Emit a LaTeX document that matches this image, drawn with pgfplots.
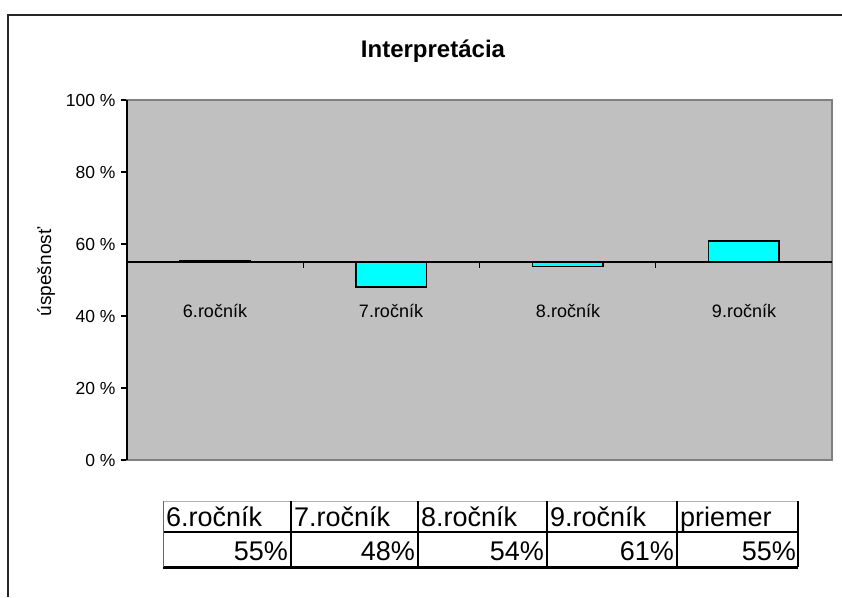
\documentclass[border=0pt]{standalone}
\usepackage{fontspec}
\setmainfont{Liberation Sans}
\usepackage{pgfplots}
\usepackage{pgfplotstable}
\pgfplotsset{compat=1.18}
\definecolor{plotgray}{RGB}{192,192,192}
\definecolor{bordergray}{RGB}{128,128,128}
\definecolor{barcyan}{RGB}{0,255,255}
\pgfplotstableread{
x v
0 55.4
1 48.1
2 53.8
3 60.9
}\datatable
\begin{document}
\begin{tikzpicture}[x=1pt,y=1pt]
\path[use as bounding box] (0,0) rectangle (842,597);
\begin{axis}[at={(127pt,137pt)}, anchor=south west, scale only axis,
 width=705pt, height=360pt,
 xmin=-0.5, xmax=3.5, ymin=-55, ymax=45,
 axis background/.style={fill=plotgray},
 axis line style={draw=bordergray, line width=1.2pt},
 xtick=\empty,
 ytick={-55,-35,-15,5,25,45},
 yticklabels={0 \%,20 \%,40 \%,60 \%,80 \%,100 \%},
 ytick pos=left, tick align=outside, major tick length=6pt,
 tick style={black, line width=1.2pt},
 yticklabel style={font=\fontsize{17.5}{20}\selectfont, xshift=-2pt},
 /pgf/number format/assume math mode=true,
 clip=false,
]
\draw[black, line width=1.5pt] (rel axis cs:0,0) -- (rel axis cs:0,1);
\addplot[ybar, bar width=0.4, fill=barcyan, draw=black, line width=1.5pt]
  table[x=x, y expr=\thisrow{v}-55] {\datatable};
\draw[black, line width=1.5pt] (rel axis cs:0,0.55) -- (rel axis cs:1,0.55);
\draw[black, line width=1.2pt] (axis cs:0.5,0) -- (axis cs:0.5,-1.8);
\draw[black, line width=1.2pt] (axis cs:1.5,0) -- (axis cs:1.5,-1.8);
\draw[black, line width=1.2pt] (axis cs:2.5,0) -- (axis cs:2.5,-1.8);
\end{axis}
\begin{scope}[every node/.style={font=\fontsize{18}{20}\selectfont, anchor=base}]
\node at (215,279) {6.ročník};
\node at (391,279) {7.ročník};
\node at (568,279) {8.ročník};
\node at (744,279) {9.ročník};
\end{scope}
\node[anchor=base, font=\bfseries\fontsize{24}{28}\selectfont] at (433,539) {Interpretácia};
\node[rotate=90, font=\fontsize{19}{22}\selectfont] at (46,325) {úspešnosť};
\draw[line width=2.5pt, black!85] (8,0) -- (8,582) -- (842,582);
% table
\draw[black!30, line width=1pt] (163,96) -- (798,96);
\draw[black, line width=1.2pt] (163,65) -- (798,65);
\draw[black, line width=3pt] (163,30) -- (798,30);
\draw[black!60, line width=1pt] (163,96) -- (163,30);
\foreach \c in {291,418,547,677,798} {\draw[black, line width=1.2pt] (\c,96) -- (\c,30);}
\begin{scope}[every node/.style={font=\fontsize{27}{30}\selectfont, inner sep=1pt}]
\node[anchor=base west] at (165,71) {6.ročník};
\node[anchor=base west] at (293,71) {7.ročník};
\node[anchor=base west] at (420,71) {8.ročník};
\node[anchor=base west] at (549,71) {9.ročník};
\node[anchor=base west] at (679,71) {priemer};
\node[anchor=base east] at (289,37) {55\%};
\node[anchor=base east] at (416,37) {48\%};
\node[anchor=base east] at (545,37) {54\%};
\node[anchor=base east] at (675,37) {61\%};
\node[anchor=base east] at (797,37) {55\%};
\end{scope}
\end{tikzpicture}
\end{document}
